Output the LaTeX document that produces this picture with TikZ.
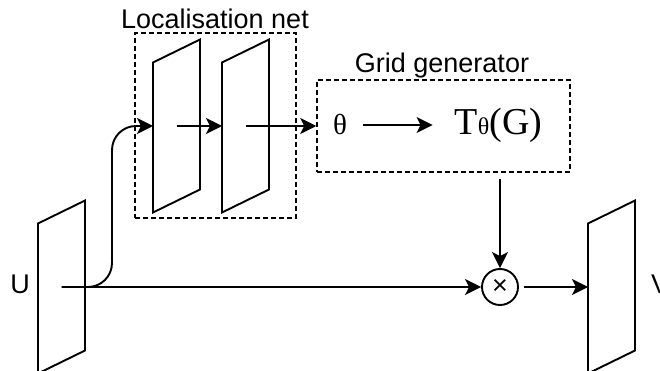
\documentclass[tikz,border=0pt]{standalone}
\usepackage{fontspec}
\setmainfont{Liberation Sans}
\newfontfamily\grk{Liberation Serif}
\usetikzlibrary{arrows.meta,positioning}

\begin{document}
\begin{tikzpicture}[
  x=1pt, y=-1pt,
  >={Stealth[length=16pt, width=16pt, inset=4pt]},
  arr/.style={->, line width=1.9pt},
  dbox/.style={draw, line width=1.5pt, dash pattern=on 5pt off 3pt},
  lbl/.style={font=\fontsize{27}{32}\selectfont, inner sep=0pt},
  mul/.style={draw, circle, line width=1.9pt, minimum size=36pt, inner sep=0pt},
  plane/.pic={
    \draw[line width=1.9pt] (-23.5,-63.5) -- (23.5,-86.5) -- (23.5,63.5)
                            -- (-23.5,86.5) -- cycle;
    \coordinate (-c) at (0,0);
    \coordinate (-w) at (-23.5,0);
  },
]
\useasboundingbox (0,0) rectangle (660,371);

% ---- feature maps ----
\pic (U)  at (61.5,287)  {plane};
\pic (P1) at (176.5,126) {plane};
\pic (P2) at (245.5,126) {plane};
\pic (V)  at (611.5,287) {plane};

\node[lbl, anchor=base]      (Ulbl) at (20,293)  {U};
\node[lbl, anchor=base west] (Vlbl) at (651,293) {V};

% ---- localisation net ----
\node[dbox, minimum width=161pt, minimum height=185pt] (loc) at (215.5,125.5) {};
\node[lbl, anchor=base] (loctxt) at (215,29) {Localisation net};

% ---- grid generator ----
\node[dbox, minimum width=253pt, minimum height=92pt] (grid) at (443.5,126) {};
\node[lbl, anchor=base] (gridtxt) at (442,73) {Grid generator};
\node[anchor=base, inner sep=0pt, font=\grk\fontsize{29}{34}\selectfont]
  (theta) at (340,135) {θ};
\node[anchor=base, inner sep=0pt, font=\grk\fontsize{38}{44}\selectfont]
  (tg) at (498.5,135) {T{\fontsize{24}{28}\selectfont θ}(G)};

% ---- sampler ----
\node[mul] (mul) at (500,287) {\fontsize{27}{30}\selectfont ×};

% ---- arrows ----
\coordinate (up) at (112,126);
\draw[arr, rounded corners=24pt] (U-c) -| (up) -- (P1-w);
\draw[arr] (P1-c) -- (P2-w);
\draw[arr] (P2-c) -- (P2-c -| grid.west);
\draw[arr, shorten <=16pt, shorten >=22pt] (theta.east) -- (theta.east -| tg.west);
\draw[arr] (U-c) -- (mul);
\draw[arr, shorten <=6pt] (grid.south -| mul) -- (mul);
\draw[arr, shorten <=5pt] (mul) -- (V-w);

\end{tikzpicture}
\end{document}
